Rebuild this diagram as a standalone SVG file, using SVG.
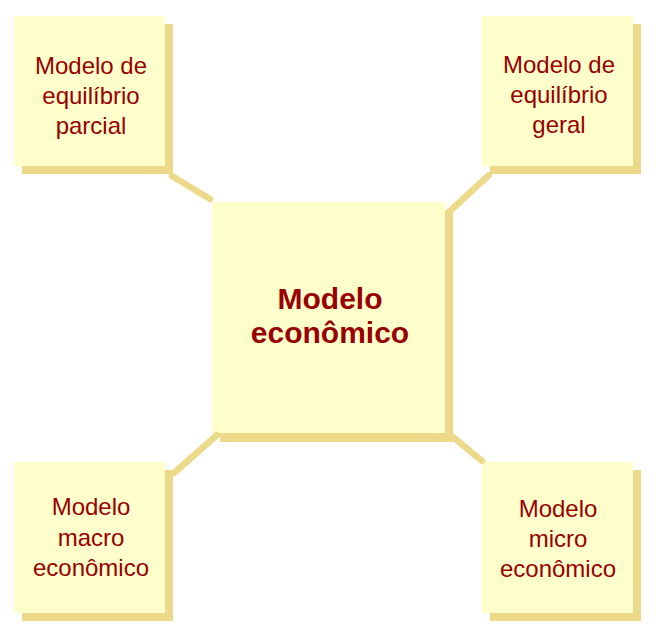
<svg xmlns="http://www.w3.org/2000/svg" width="661" height="633" viewBox="0 0 661 633">
<style>
.face{fill:#FFFFCC}
.shadow{fill:#EDD98A}
.lbl{font-family:"Liberation Sans",Arial,sans-serif;font-size:24px;fill:#990000;text-anchor:middle}
.main{font-family:"Liberation Sans",Arial,sans-serif;font-size:30px;font-weight:bold;fill:#990000;text-anchor:middle}
.conn{stroke:#EDD98A;stroke-width:6.5;stroke-linecap:round;fill:none}
</style>
<rect width="661" height="633" fill="#FFFFFF"/>
<g id="node-parcial">
<rect class="shadow" x="22" y="24" width="151" height="150"/>
<rect class="face" x="14" y="16" width="151" height="150"/>
<text class="lbl" x="91" y="74">Modelo de</text>
<text class="lbl" x="91" y="104">equilíbrio</text>
<text class="lbl" x="91" y="134">parcial</text>
</g>
<g id="node-geral">
<rect class="shadow" x="490" y="24" width="151" height="150"/>
<rect class="face" x="482" y="16" width="151" height="150"/>
<text class="lbl" x="559" y="73">Modelo de</text>
<text class="lbl" x="559" y="103">equilíbrio</text>
<text class="lbl" x="559" y="133">geral</text>
</g>
<g id="node-economico">
<rect class="shadow" x="220" y="210" width="233" height="232"/>
<rect class="face" x="212" y="202" width="233" height="231"/>
<text class="main" x="330" y="309">Modelo</text>
<text class="main" x="330" y="343">econômico</text>
</g>
<g id="node-macro">
<rect class="shadow" x="22" y="470" width="151" height="151"/>
<rect class="face" x="14" y="462" width="151" height="151"/>
<text class="lbl" x="91" y="515">Modelo</text>
<text class="lbl" x="91" y="546">macro</text>
<text class="lbl" x="91" y="576">econômico</text>
</g>
<g id="node-micro">
<rect class="shadow" x="490" y="470" width="151" height="151"/>
<rect class="face" x="482" y="462" width="151" height="151"/>
<text class="lbl" x="558" y="517">Modelo</text>
<text class="lbl" x="558" y="547">micro</text>
<text class="lbl" x="558" y="577">econômico</text>
</g>
<g id="connectors">
<line class="conn" x1="172" y1="176" x2="210" y2="199"/>
<line class="conn" x1="489" y1="175" x2="449" y2="212"/>
<line class="conn" x1="174" y1="473" x2="217" y2="435"/>
<line class="conn" x1="453" y1="437" x2="482" y2="461"/>
</g>
</svg>
